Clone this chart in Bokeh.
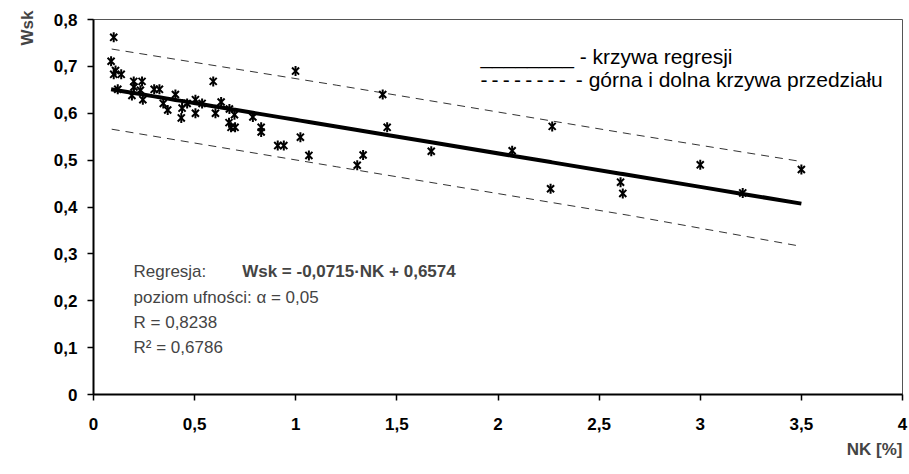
import numpy as np
from bokeh.plotting import figure
from bokeh.models import Label, Range1d, FixedTicker, CustomJSTickFormatter, Title
from bokeh.embed import file_html
from bokeh.resources import INLINE

# ---- data ----
nk = [0.100, 0.087, 0.109, 0.100, 0.137, 0.120, 0.199, 0.240, 0.200, 0.232,
      0.190, 0.244, 0.300, 0.326, 0.405, 0.345, 0.367, 0.438, 0.434, 0.504,
      0.463, 0.537, 0.504, 0.592, 0.631, 0.603, 0.672, 0.697, 0.670, 0.680,
      0.700, 0.788, 0.829, 0.829, 0.911, 0.941, 1.023, 0.999, 1.065, 1.304,
      1.333, 1.430, 1.452, 1.670, 2.070, 2.268, 2.260, 2.606, 2.617, 3.000,
      3.210, 3.500]
wsk = [0.762, 0.711, 0.691, 0.683, 0.683, 0.651, 0.668, 0.668, 0.656, 0.649,
       0.638, 0.629, 0.651, 0.651, 0.640, 0.621, 0.607, 0.611, 0.590, 0.629,
       0.621, 0.621, 0.600, 0.668, 0.624, 0.600, 0.609, 0.597, 0.580, 0.570,
       0.570, 0.592, 0.570, 0.560, 0.531, 0.531, 0.549, 0.690, 0.510, 0.489,
       0.511, 0.640, 0.570, 0.519, 0.520, 0.572, 0.439, 0.453, 0.429, 0.490,
       0.430, 0.480]

slope = -0.0715
intercept = 0.6574

band_x = [0.09, 1.2, 2.65, 3.5]
band_upper = [0.737, 0.660, 0.556, 0.497]
band_lower = [0.566, 0.486, 0.382, 0.316]

x_ticks = [0, 0.5, 1, 1.5, 2, 2.5, 3, 3.5, 4]
x_tick_labels = ["0", "0,5", "1", "1,5", "2", "2,5", "3", "3,5", "4"]
y_ticks = [0, 0.1, 0.2, 0.3, 0.4, 0.5, 0.6, 0.7, 0.8]
y_tick_labels = ["0", "0,1", "0,2", "0,3", "0,4", "0,5", "0,6", "0,7", "0,8"]

dash_run = "-\u2009" * 8
legend_lines = ["________ - krzywa regresji",
                dash_run + " - górna i dolna krzywa przedziału"]
stat_lines = ["poziom ufności: α = 0,05", "R = 0,8238", "R² = 0,6786"]

FONT = "Liberation Sans"

p = figure(width=908, height=472, output_backend="svg", toolbar_location=None,
           x_range=Range1d(0, 4), y_range=Range1d(0, 0.8),
           min_border_left=93, min_border_right=6, min_border_top=19,
           min_border_bottom=78)
p.background_fill_color = "white"
p.border_fill_color = "white"
p.outline_line_color = "#555555"
p.outline_line_width = 1
p.xgrid.visible = False
p.ygrid.visible = False

fmt_code = """
const i = tvals.findIndex(t => Math.abs(t - tick) < 1e-9);
return i >= 0 ? tlabels[i] : '';
"""
p.xaxis.ticker = FixedTicker(ticks=x_ticks)
p.yaxis.ticker = FixedTicker(ticks=y_ticks)
p.xaxis.formatter = CustomJSTickFormatter(args=dict(tvals=x_ticks, tlabels=x_tick_labels), code=fmt_code)
p.yaxis.formatter = CustomJSTickFormatter(args=dict(tvals=y_ticks, tlabels=y_tick_labels), code=fmt_code)

for ax in (p.xaxis, p.yaxis):
    ax.axis_line_color = "black"
    ax.axis_line_width = 2
    ax.major_tick_line_color = "black"
    ax.major_tick_line_width = 1.5
    ax.major_tick_out = 6
    ax.major_tick_in = 0
    ax.minor_tick_line_color = None
    ax.major_label_text_font = FONT
    ax.major_label_text_font_style = "bold"
    ax.major_label_text_font_size = "17px"
    ax.major_label_text_color = "black"
p.yaxis.major_label_standoff = 10
p.xaxis.major_label_standoff = 17

# axis titles as side-panel titles
p.add_layout(Title(text="Wsk", align="right", text_font=FONT, text_font_style="bold",
                   text_font_size="17px", standoff=28, offset=-9), "left")
p.add_layout(Title(text="NK [%]", align="right", text_font=FONT, text_font_style="bold",
                   text_font_size="17px", standoff=10), "below")

# confidence bands
p.line(band_x, band_upper, line_color="#333333", line_width=1, line_dash="8 6")
p.line(band_x, band_lower, line_color="#333333", line_width=1, line_dash="8 6")

# regression line
xs = np.sort(np.unique(nk))
p.line(xs, slope * xs + intercept, line_color="black", line_width=4)

# data points (star markers: x + vertical bar)
p.scatter(nk, wsk, marker="x", size=10, line_color="black", line_width=2)
p.scatter(nk, wsk, marker="dash", angle=np.pi / 2, size=10, line_color="black", line_width=2)

# legend texts
p.add_layout(Label(x=1.913, y=0.721, text=legend_lines[0], text_font=FONT,
                   text_font_size="21px", text_baseline="alphabetic", text_color="black"))
p.add_layout(Label(x=1.913, y=0.672, text=legend_lines[1], text_font=FONT,
                   text_font_size="21px", text_baseline="alphabetic", text_color="black"))

# regression statistics
p.add_layout(Label(x=0.198, y=0.262, text="Regresja:", text_font=FONT,
                   text_font_size="17px", text_baseline="alphabetic"))
p.add_layout(Label(x=0.735, y=0.262, text=f"Wsk = {slope:.4f}·NK + {intercept:.4f}".replace(".", ","),
                   text_font=FONT, text_font_style="bold",
                   text_font_size="17px", text_baseline="alphabetic"))
for i, t in enumerate(stat_lines):
    p.add_layout(Label(x=0.198, y=0.208 - i * 0.0535, text=t, text_font=FONT,
                       text_font_size="17px", text_baseline="alphabetic"))

open("out.html", "w").write(file_html(p, INLINE))
